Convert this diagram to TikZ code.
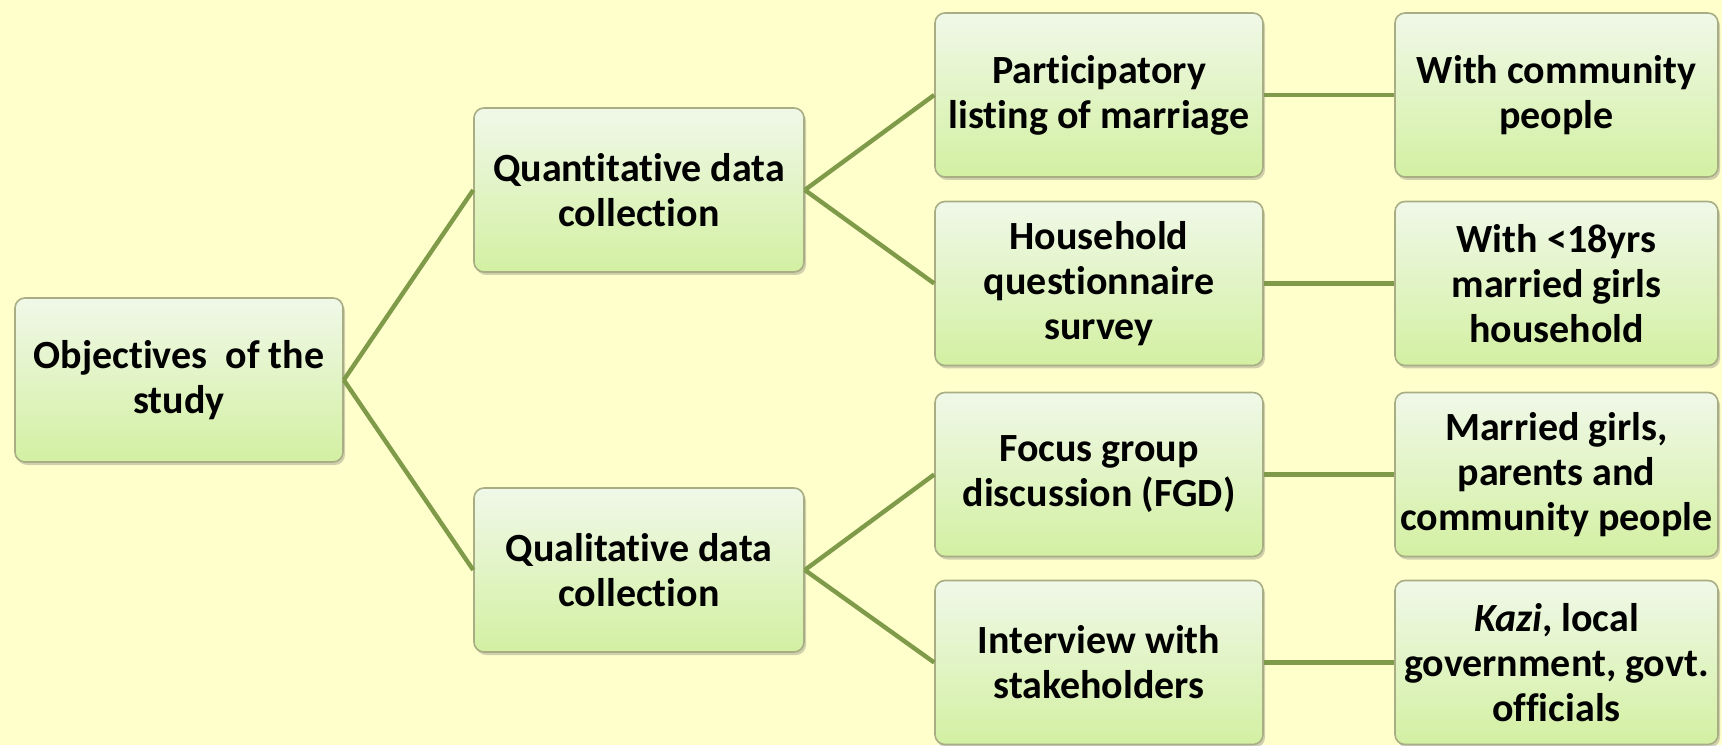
\documentclass[tikz,border=0pt]{standalone}
\usepackage{fontspec}
\setmainfont{Carlito}[Ligatures=NoCommon]
\usetikzlibrary{shadows}
\definecolor{bg}{HTML}{FFFFCC}
\definecolor{boxtop}{HTML}{F0F8E8}
\definecolor{boxbot}{HTML}{D3F0A2}
\definecolor{boxline}{HTML}{A8AD84}
\definecolor{conn}{HTML}{7F9A48}
\tikzset{
  box/.style={draw=boxline, line width=0.8pt, rounded corners=5pt,
    top color=boxtop, bottom color=boxbot, minimum height=82pt,
    align=center, font=\fontsize{20}{22.5}\selectfont\bfseries, inner sep=1pt,
    drop shadow={shadow xshift=1pt, shadow yshift=-1.5pt, opacity=0.3, fill=black!60}},
  conn/.style={draw=conn, line width=2.2pt}
}
\begin{document}
\begin{tikzpicture}[x=1pt,y=1pt]
\fill[bg] (0,0) rectangle (861,372.5);
\useasboundingbox (0,0) rectangle (861,372.5);
\node[box, minimum width=164pt] (root) at (89.5,182.5) {Objectives\ \ of the\\study};
\node[box, minimum width=165pt] (quant) at (319.5,277.5) {Quantitative data\\collection};
\node[box, minimum width=165pt] (qual) at (319.5,87.5) {Qualitative data\\collection};
\node[box, minimum width=164pt] (part) at (549.5,325) {Participatory\\listing of marriage};
\node[box, minimum width=164pt] (hh) at (549.5,230.75) {Household\\questionnaire\\survey};
\node[box, minimum width=164pt] (fgd) at (549.5,135.25) {Focus group\\discussion (FGD)};
\node[box, minimum width=164pt] (int) at (549.5,41.25) {Interview with\\stakeholders};
\node[box, minimum width=161.5pt] (comm) at (778.25,325) {With community\\people};
\node[box, minimum width=161.5pt] (girls) at (778.25,230.75) {With <18yrs\\married girls\\household};
\node[box, minimum width=161.5pt] (par) at (778.25,135.25) {Married girls,\\parents and\\community people};
\node[box, minimum width=161.5pt] (kazi) at (778.25,41.25) {\textit{Kazi}, local\\government, govt.\\officials};
\draw[conn] (root.east) -- (quant.west);
\draw[conn] (root.east) -- (qual.west);
\draw[conn] (quant.east) -- (part.west);
\draw[conn] (quant.east) -- (hh.west);
\draw[conn] (qual.east) -- (fgd.west);
\draw[conn] (qual.east) -- (int.west);
\draw[conn] (part.east) -- (comm.west);
\draw[conn] (hh.east) -- (girls.west);
\draw[conn] (fgd.east) -- (par.west);
\draw[conn] (int.east) -- (kazi.west);
\end{tikzpicture}
\end{document}
